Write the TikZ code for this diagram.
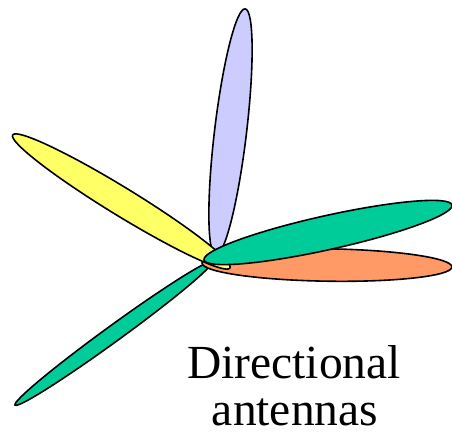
\documentclass[tikz,border=0pt]{standalone}
\usepackage{fontspec}
\setmainfont{Liberation Serif}
\definecolor{lav}{HTML}{CCCCFF}
\definecolor{yel}{HTML}{FFFF66}
\definecolor{grn}{HTML}{00CC99}
\definecolor{org}{HTML}{FF9966}
\tikzset{
  lobe/.style={draw=black, line width=1.6pt},
  lbl/.style={font=\fontsize{47.5}{47.5}\selectfont, inner sep=0pt, anchor=base}
}
\begin{document}
\begin{tikzpicture}[x=1pt,y=1pt]
\useasboundingbox (0,0) rectangle (452,434);
% lower-left green lobe
\path[lobe, fill=grn] (113.5,100.5) ellipse [x radius=121.7, y radius=8, rotate=36];
% lavender lobe
\path[lobe, fill=lav] (230.5,302) ellipse [x radius=124, y radius=16, rotate=83.2];
% orange lobe
\path[lobe, fill=org] (327,169) ellipse [x radius=125, y radius=16.2, rotate=-0.9];
% yellow lobe
\path[lobe, fill=yel] (121.3,232.5) ellipse [x radius=127.4, y radius=14, rotate=148.5];
% upper-right green lobe
\path[lobe, fill=grn] (328,201.5) ellipse [x radius=127, y radius=17, rotate=12.5];
\node[lbl] (t1) at (294,56) {Directional};
\node[lbl] (t2) at (295,9) {antennas};
\end{tikzpicture}
\end{document}
